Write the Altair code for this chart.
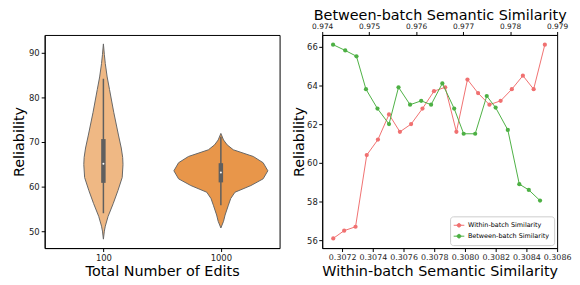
import altair as alt
import pandas as pd

# ---------------- Left panel data (violins) ----------------
groups = ["100", "1000"]
# reliability levels and relative violin half-widths
v100_levels = [48.2, 50.0, 51.1, 53.3, 56.2, 59.1, 62.0, 64.9, 66.5, 68.6, 71.5, 76.6, 81.7, 84.5, 87.5, 89.5, 91.9]
v100_width = [0.0, 0.02, 0.04, 0.10, 0.21, 0.31, 0.40, 0.417, 0.41, 0.38, 0.32, 0.22, 0.13, 0.08, 0.04, 0.02, 0.0]
v1000_levels = [50.7, 52.2, 53.6, 55.8, 57.3, 58.7, 60.2, 61.7, 63.5, 65.3, 66.7, 68.2, 69.3, 70.4, 71.86]
v1000_width = [0.0, 0.057, 0.09, 0.16, 0.21, 0.30, 0.64, 0.90, 1.0, 0.90, 0.69, 0.265, 0.134, 0.057, 0.0]

whisker_lo = [54.0, 55.8]
whisker_hi = [84.1, 71.1]
box_q1 = [60.8, 60.9]
box_q3 = [70.6, 65.2]
medians = [65.1, 63.1]
violin_colors = ["#EFB884", "#E8964A"]

# ---------------- Right panel data ----------------
series_names = ["Within-batch Similarity", "Between-batch Similarity"]
within_x = [0.307142, 0.307213, 0.307287, 0.307360, 0.307433, 0.307505, 0.307576, 0.307649, 0.307723, 0.307798,
            0.307871, 0.307944, 0.308016, 0.308085, 0.308159, 0.308232, 0.308305, 0.308377, 0.308447, 0.308520]
within_y = [56.1, 56.5, 56.7, 60.4, 61.2, 62.5, 61.6, 62.0, 62.8, 63.7,
            63.9, 61.6, 64.3, 63.6, 63.0, 63.2, 63.8, 64.5, 63.8, 66.1]
between_x = [0.974231, 0.974490, 0.974729, 0.974931, 0.975176, 0.975422, 0.975624, 0.975870, 0.976107, 0.976317,
             0.976557, 0.976809, 0.977011, 0.977256, 0.977502, 0.977691, 0.977950, 0.978195, 0.978397, 0.978636]
between_y = [66.1, 65.8, 65.5, 63.8, 62.8, 62.0, 63.9, 63.0, 63.2, 63.0,
             64.1, 62.8, 61.5, 61.5, 63.45, 62.85, 61.7, 58.9, 58.6, 58.05]
line_colors = ["#F07070", "#4DB044"]

bottom_ticks = [0.3072, 0.3074, 0.3076, 0.3078, 0.3080, 0.3082, 0.3084, 0.3086]
top_ticks = [0.974, 0.975, 0.976, 0.977, 0.978, 0.979]

FONT = "DejaVu Sans"

# ---------------- Build left panel ----------------
vdf = pd.concat([
    pd.DataFrame({"group": groups[0], "gi": 0, "rel": v100_levels, "w": v100_width}),
    pd.DataFrame({"group": groups[1], "gi": 1, "rel": v1000_levels, "w": v1000_width}),
], ignore_index=True)
bdf = pd.DataFrame({"group": groups, "gi": [0, 1], "lo": whisker_lo, "hi": whisker_hi,
                    "q1": box_q1, "q3": box_q3, "med": medians})

xscale_l = alt.Scale(domain=[0, 2], nice=False, zero=False)
yscale_l = alt.Scale(domain=[46.2, 93.9], nice=False, zero=False)
xaxis_l = alt.Axis(values=[0.5, 1.5], labelExpr="datum.value < 1 ? '100' : '1000'",
                   title="Total Number of Edits", grid=False, titlePadding=3)
yaxis_l = alt.Axis(values=[50, 60, 70, 80, 90], title="Reliability", grid=False)

violin = alt.Chart(vdf).transform_calculate(
    xl="datum.gi + 0.5 - 0.4 * datum.w",
    xr="datum.gi + 0.5 + 0.4 * datum.w",
).mark_area(orient="horizontal", stroke="#666666", strokeWidth=1).encode(
    y=alt.Y("rel:Q", scale=yscale_l, axis=yaxis_l),
    x=alt.X("xl:Q", scale=xscale_l, axis=xaxis_l),
    x2="xr:Q",
    fill=alt.Fill("group:N", scale=alt.Scale(domain=groups, range=violin_colors), legend=None),
)

whisk = alt.Chart(bdf).transform_calculate(c="datum.gi + 0.5").mark_rule(
    color="#5f5f5f", strokeWidth=1.5).encode(
    x=alt.X("c:Q", scale=xscale_l), y=alt.Y("lo:Q", scale=yscale_l), y2="hi:Q")
box = alt.Chart(bdf).transform_calculate(c="datum.gi + 0.5").mark_rule(
    color="#5f5f5f", strokeWidth=4.5).encode(
    x=alt.X("c:Q", scale=xscale_l), y=alt.Y("q1:Q", scale=yscale_l), y2="q3:Q")
med = alt.Chart(bdf).transform_calculate(c="datum.gi + 0.5").mark_point(
    filled=True, color="white", size=4, opacity=1).encode(
    x=alt.X("c:Q", scale=xscale_l), y=alt.Y("med:Q", scale=yscale_l))

left = alt.layer(violin, whisk, box, med).properties(width=237, height=215)

# ---------------- Build right panel ----------------
wdf = pd.DataFrame({"series": series_names[0], "x": within_x, "y": within_y})
gdf = pd.DataFrame({"series": series_names[1], "x": between_x, "y": between_y})

yscale_r = alt.Scale(domain=[55.6, 66.6], nice=False, zero=False)
cscale = alt.Scale(domain=series_names, range=line_colors)
legend = alt.Legend(
    title=None, orient="bottom-right", offset=3, padding=5, strokeColor="#cccccc",
    cornerRadius=3, fillColor="white", labelFontSize=6.5, labelFont=FONT,
    symbolType="M-1.6,0L1.6,0M0.55,0A0.55,0.55,0,1,1,-0.55,0A0.55,0.55,0,1,1,0.55,0Z",
    symbolSize=45, symbolStrokeWidth=1, rowPadding=3, labelOffset=5,
)

wline = alt.Chart(wdf).mark_line(
    strokeWidth=1, point=alt.OverlayMarkDef(filled=True, size=18, opacity=1)).encode(
    x=alt.X("x:Q", scale=alt.Scale(domain=[0.30707, 0.3086], nice=False, zero=False),
            axis=alt.Axis(values=bottom_ticks, format=".4f", title="Within-batch Semantic Similarity",
                          grid=False, orient="bottom", labelOverlap=False, labelFlush=False,
                          labelFontSize=8, titlePadding=3)),
    y=alt.Y("y:Q", scale=yscale_r, axis=alt.Axis(values=[56, 58, 60, 62, 64, 66], title="Reliability",
                                                 grid=False, titlePadding=0, labelPadding=1.5)),
    color=alt.Color("series:N", scale=cscale, legend=legend),
)
gline = alt.Chart(gdf).mark_line(
    strokeWidth=1, point=alt.OverlayMarkDef(filled=True, size=18, opacity=1)).encode(
    x=alt.X("x:Q", scale=alt.Scale(domain=[0.974, 0.979], nice=False, zero=False),
            axis=alt.Axis(values=top_ticks, format=".3f", title="Between-batch Semantic Similarity",
                          grid=False, orient="top", labelFontSize=7.5, labelFlush=False,
                          labelOverlap=False, titlePadding=0, labelPadding=1)),
    y=alt.Y("y:Q", scale=yscale_r),
    color=alt.Color("series:N", scale=cscale, legend=legend),
)

right = alt.layer(wline, gline).resolve_scale(x="independent").properties(width=237, height=215)

chart = alt.hconcat(left, right, spacing=43, bounds="flush").resolve_legend(
    color="independent").properties(
    padding={"left": 3, "top": -2, "right": 0, "bottom": 0}
).configure(font=FONT).configure_view(
    stroke="black", strokeWidth=1
).configure_axis(
    domainColor="black", tickColor="black", tickSize=3.5, domainWidth=1, tickWidth=1,
    labelFont=FONT, titleFont=FONT, labelFontSize=8.5, titleFontSize=14.5,
    titleFontWeight="normal", labelColor="#222222", titleColor="black",
    labelPadding=2, titlePadding=2,
)

chart.save("out.html", embed_options={"renderer": "svg", "actions": False})
